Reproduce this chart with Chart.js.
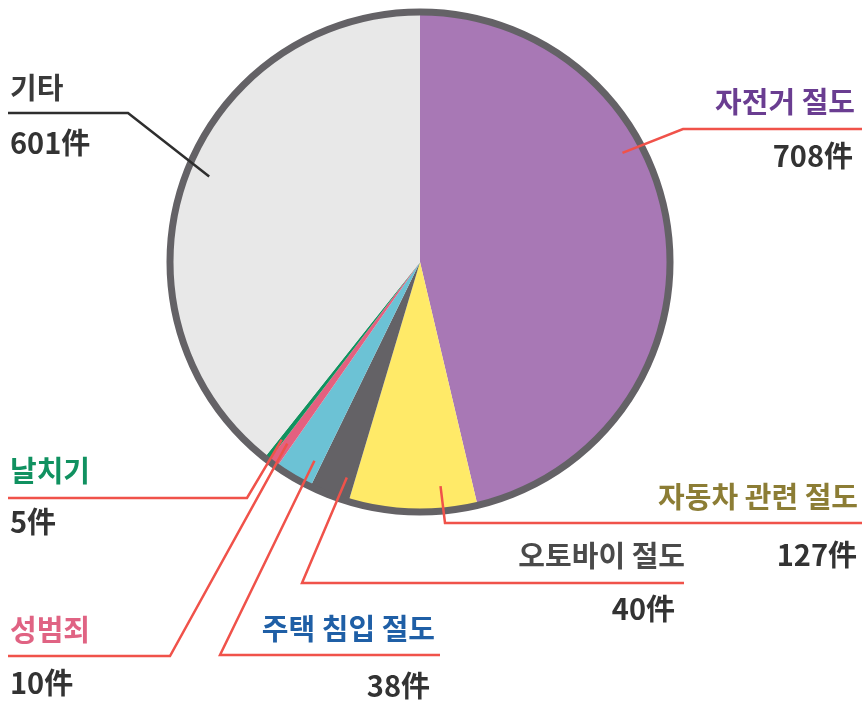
<!DOCTYPE html>
<html><head><meta charset="utf-8">
<script src="https://cdn.jsdelivr.net/npm/chart.js@4/dist/chart.umd.min.js"></script>
<style>html,body{margin:0;padding:0;background:#fff;}canvas{display:block;}</style>
</head><body>
<canvas id="c" width="865" height="702"></canvas>
<script>
const categories = ['자전거 절도','자동차 관련 절도','오토바이 절도','주택 침입 절도','성범죄','날치기','기타'];
const counts = [708,127,40,38,10,5,601];
const countLabels = ['708件','127件','40件','38件','10件','5件','601件'];
const sliceColors = ['#a878b5','#ffea68','#646266','#6cc2d5','#e4607f','#11925f','#e8e8e8'];
const labelColors = ['#6a3d91','#8c7d35','#4a4a4a','#1f5fa6','#e06383','#109160','#3a3a3a'];

// annotation layout: anchor fraction along arc (f), radius fraction (r), elbow and line end, text positions
const labelLayout = [
  {f:0.37,r:0.92, elbow:[683,129], end:[862,129], align:'right', tx:855, ty:102, nx:853, ny:156, line:'#f0524a'},
  {f:0.27,r:0.90, elbow:[445,523], end:[862,523], align:'right', tx:858, ty:497, nx:857, ny:555, line:'#f0524a'},
  {f:0.23,r:0.91, elbow:[302,583], end:[684,583], align:'right', tx:685, ty:556, nx:675, ny:609, line:'#f0524a'},
  {f:0.22,r:0.90, elbow:[220,655], end:[440,655], align:'right', tx:435, ty:629, nx:430, ny:686, line:'#f0524a'},
  {f:0.50,r:0.90, elbow:[170,656], end:[8,656],   align:'left',  tx:10,  ty:630, nx:10,  ny:683, line:'#f0524a'},
  {f:0.50,r:0.90, elbow:[247,498], end:[8,498],   align:'left',  tx:10,  ty:471, nx:10,  ny:522, line:'#f0524a'},
  {f:0.52,r:0.91, elbow:[128,113], end:[8,113],   align:'left',  tx:10,  ty:88,  nx:10,  ny:143, line:'#2e2e2e'}
];

const FONT = 'bold 29px "Noto Sans CJK KR", "Noto Sans", sans-serif';

const annot = {
  id:'annot',
  afterDatasetsDraw(chart){
    const ctx = chart.ctx;
    const meta = chart.getDatasetMeta(0);
    const a0 = meta.data[0];
    // outer border ring
    ctx.save();
    ctx.beginPath();
    ctx.arc(a0.x, a0.y, a0.outerRadius, 0, Math.PI*2);
    ctx.lineWidth = 7;
    ctx.strokeStyle = '#646266';
    ctx.stroke();
    ctx.restore();

    meta.data.forEach((arc, i) => {
      const L = labelLayout[i];
      const ang = arc.startAngle + L.f*(arc.endAngle - arc.startAngle);
      const rr = arc.outerRadius * L.r;
      const ax = arc.x + Math.cos(ang)*rr;
      const ay = arc.y + Math.sin(ang)*rr;
      ctx.save();
      ctx.beginPath();
      ctx.moveTo(ax, ay);
      ctx.lineTo(L.elbow[0], L.elbow[1]);
      ctx.lineTo(L.end[0], L.end[1]);
      ctx.lineWidth = 2.5;
      ctx.strokeStyle = L.line;
      ctx.lineJoin = 'miter';
      ctx.stroke();
      ctx.font = FONT;
      ctx.textBaseline = 'middle';
      ctx.textAlign = L.align;
      ctx.fillStyle = labelColors[i];
      ctx.fillText(categories[i], L.tx, L.ty);
      ctx.fillStyle = '#333333';
      ctx.fillText(countLabels[i], L.nx, L.ny);
      ctx.restore();
    });
  }
};

new Chart(document.getElementById('c'), {
  type:'pie',
  data:{
    labels: categories,
    datasets:[{data: counts, backgroundColor: sliceColors, borderWidth:0}]
  },
  options:{
    responsive:false,
    animation:false,
    layout:{padding:{left:0,right:25,top:12,bottom:190}},
    plugins:{legend:{display:false}, tooltip:{enabled:false}}
  },
  plugins:[annot]
});
</script>
</body></html>
